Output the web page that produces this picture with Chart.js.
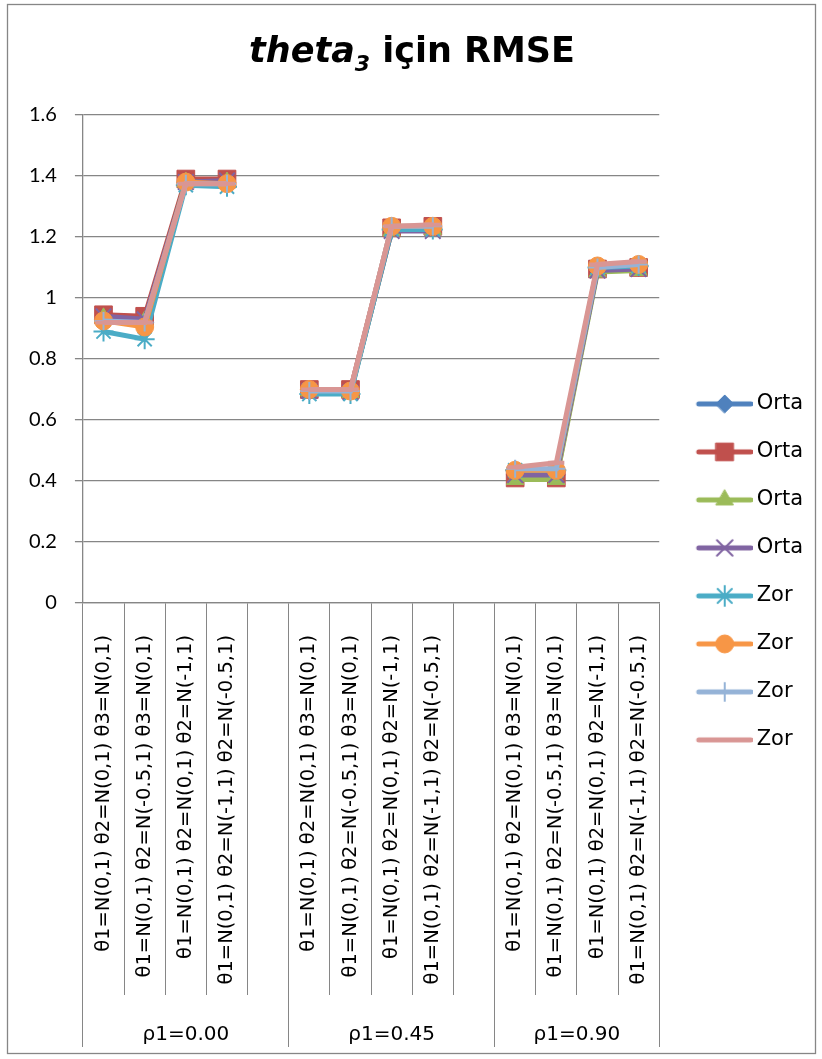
<!DOCTYPE html>
<html>
<head>
<meta charset="utf-8">
<script src="https://cdn.jsdelivr.net/npm/chart.js@4.4.0/dist/chart.umd.min.js"></script>
<style>
  html, body { margin: 0; padding: 0; background: #fff; }
  #quadro { width: 822px; height: 1059px; }
</style>
</head>
<body>
<div id="quadro"><canvas id="grafico" width="822" height="1059"></canvas></div>
<script>
// categorias (14 posições: 4 cenários + 1 vazio por grupo)
var categorias = [
    "θ1=N(0,1) θ2=N(0,1) θ3=N(0,1)",
    "θ1=N(0,1) θ2=N(-0.5,1) θ3=N(0,1)",
    "θ1=N(0,1) θ2=N(0,1) θ2=N(-1,1)",
    "θ1=N(0,1) θ2=N(-1,1) θ2=N(-0.5,1)",
    "",
    "θ1=N(0,1) θ2=N(0,1) θ3=N(0,1)",
    "θ1=N(0,1) θ2=N(-0.5,1) θ3=N(0,1)",
    "θ1=N(0,1) θ2=N(0,1) θ2=N(-1,1)",
    "θ1=N(0,1) θ2=N(-1,1) θ2=N(-0.5,1)",
    "",
    "θ1=N(0,1) θ2=N(0,1) θ3=N(0,1)",
    "θ1=N(0,1) θ2=N(-0.5,1) θ3=N(0,1)",
    "θ1=N(0,1) θ2=N(0,1) θ2=N(-1,1)",
    "θ1=N(0,1) θ2=N(-1,1) θ2=N(-0.5,1)"
];
var grupos = ["ρ1=0.00", "ρ1=0.45", "ρ1=0.90"];
var grupoCentros = [2, 7, 11.5];
var grupoLimites = [-0.5, 4.5, 9.5, 13.5];

var nomesSeries = ["Orta", "Orta", "Orta", "Orta", "Zor", "Zor", "Zor", "Zor"];

var orta1 = [0.93, 0.92, 1.38, 1.38, null, 0.695, 0.695, 1.225, 1.23, null, 0.42, 0.42, 1.095, 1.10];
var orta2 = [0.945, 0.94, 1.39, 1.39, null, 0.70, 0.70, 1.23, 1.235, null, 0.41, 0.41, 1.095, 1.10];
var orta3 = [0.935, 0.925, 1.38, 1.38, null, 0.695, 0.69, 1.22, 1.225, null, 0.405, 0.405, 1.085, 1.09];
var orta4 = [0.94, 0.93, 1.38, 1.385, null, 0.695, 0.69, 1.22, 1.22, null, 0.42, 0.42, 1.09, 1.095];
var zor1 = [0.89, 0.865, 1.37, 1.365, null, 0.685, 0.685, 1.225, 1.225, null, 0.435, 0.435, 1.10, 1.105];
var zor2 = [0.925, 0.905, 1.38, 1.375, null, 0.70, 0.695, 1.235, 1.235, null, 0.435, 0.435, 1.105, 1.11];
var zor3 = [0.925, 0.92, 1.375, 1.375, null, 0.695, 0.695, 1.235, 1.235, null, 0.44, 0.44, 1.10, 1.11];
var zor4 = [0.92, 0.92, 1.375, 1.375, null, 0.70, 0.70, 1.235, 1.24, null, 0.445, 0.46, 1.11, 1.12];

var rotulosY = ["0", "0.2", "0.4", "0.6", "0.8", "1", "1.2", "1.4", "1.6"];

// estilo de cada série (cores do Excel)
var cores = ["#4F81BD", "#C0504D", "#9BBB59", "#8064A2", "#4BACC6", "#F79646", "#95B3D7", "#D99694"];
var marcadores = ["rectRot", "rect", "triangle", "crossRot", "star", "circle", "cross", "line"];
var raios = [9, 12.5, 10, 11, 10, 9, 9, 8];
var bordas = [1, 1, 1, 2, 2, 1, 2, 4];

var cinza = "#868686";

function iconeLegenda(i) {
    var c = document.createElement("canvas");
    c.width = 73;
    c.height = 26;
    var g = c.getContext("2d");
    g.strokeStyle = cores[i];
    g.lineWidth = 5;
    g.lineCap = "round";
    g.beginPath();
    g.moveTo(19, 13);
    g.lineTo(71, 13);
    g.stroke();
    if (marcadores[i] != "line") {
        g.fillStyle = cores[i];
        g.strokeStyle = cores[i];
        g.lineWidth = bordas[i];
        Chart.helpers.drawPoint(g, {pointStyle: marcadores[i], radius: raios[i], borderWidth: bordas[i], rotation: 0}, 45, 13);
    }
    return c;
}

function gerarGrafico() {
    var ctx = document.getElementById("grafico").getContext("2d");

    var series = [orta1, orta2, orta3, orta4, zor1, zor2, zor3, zor4];
    var datasets = series.map(function (valores, i) {
        return {
            label: nomesSeries[i],
            data: valores,
            borderColor: cores[i],
            backgroundColor: cores[i],
            borderWidth: 5,
            pointStyle: marcadores[i],
            pointRadius: raios[i],
            pointHoverRadius: raios[i],
            pointBorderWidth: bordas[i],
            pointBackgroundColor: cores[i],
            pointBorderColor: cores[i],
            tension: 0,
            spanGaps: false,
            order: 8 - i
        };
    });

    // moldura externa + título com itálico e índice
    var moldura = {
        id: "moldura",
        beforeDraw: function (chart) {
            var c = chart.ctx;
            c.save();
            c.fillStyle = "#fff";
            c.fillRect(0, 0, chart.width, chart.height);
            c.strokeStyle = cinza;
            c.lineWidth = 1.3;
            c.strokeRect(7.5, 4.5, 808, 1049);
            c.restore();
        },
        afterDraw: function (chart) {
            var c = chart.ctx;
            c.save();
            c.fillStyle = "#000";
            c.textBaseline = "alphabetic";
            var f1 = "italic bold 35px 'DejaVu Sans'";
            var f2 = "italic bold 22px 'DejaVu Sans'";
            var f3 = "bold 35px 'DejaVu Sans'";
            c.font = f1; var w1 = c.measureText("theta").width;
            c.font = f2; var w2 = c.measureText("3").width;
            c.font = f3; var w3 = c.measureText(" için RMSE").width;
            var x0 = 412 - (w1 + w2 + w3) / 2;
            var base = 62;
            c.font = f1; c.fillText("theta", x0, base);
            c.font = f2; c.fillText("3", x0 + w1, base + 9);
            c.font = f3; c.fillText(" için RMSE", x0 + w1 + w2, base);
            c.restore();
        }
    };

    new Chart(ctx, {
        type: "line",
        data: {labels: categorias, datasets: datasets},
        plugins: [moldura],
        options: {
            responsive: false,
            animation: false,
            devicePixelRatio: 1,
            layout: {padding: {top: 115, bottom: 12, left: 11, right: 9}},
            plugins: {
                title: {display: false},
                tooltip: {enabled: false},
                legend: {
                    position: "right",
                    align: "start",
                    title: {display: true, text: " ", font: {size: 12}, padding: {top: 0, bottom: 237}},
                    labels: {
                        usePointStyle: true,
                        pointStyleWidth: 60,
                        padding: 27,
                        color: "#000",
                        font: {family: "'DejaVu Sans'", size: 21},
                        generateLabels: function (chart) {
                            return chart.data.datasets.map(function (d, i) {
                                return {
                                    text: d.label,
                                    pointStyle: iconeLegenda(i),
                                    fillStyle: cores[i],
                                    strokeStyle: cores[i],
                                    lineWidth: 0,
                                    fontColor: "#000",
                                    hidden: false,
                                    datasetIndex: i
                                };
                            });
                        }
                    }
                }
            },
            scales: {
                x: {
                    type: "category",
                    position: "bottom",
                    weight: 0,
                    offset: true,
                    grid: {display: true, drawOnChartArea: false, offset: true, color: cinza, lineWidth: 1, tickLength: 392},
                    border: {display: true, color: cinza, width: 1.3},
                    ticks: {
                        autoSkip: false,
                        maxRotation: 90,
                        minRotation: 90,
                        padding: -360,
                        color: "#000",
                        font: {family: "'DejaVu Sans'", size: 19.5}
                    },
                    afterFit: function (scale) { scale.height = 392; }
                },
                x2: {
                    type: "linear",
                    position: "bottom",
                    weight: 1,
                    min: -0.5,
                    max: 13.5,
                    afterBuildTicks: function (scale) {
                        var t = [];
                        for (var k = 0; k < grupoLimites.length; k++) {
                            t.push({value: grupoLimites[k]});
                            if (k < grupoCentros.length) t.push({value: grupoCentros[k]});
                        }
                        scale.ticks = t;
                    },
                    grid: {
                        display: true,
                        drawOnChartArea: false,
                        tickLength: 52,
                        color: function (c) { return c.index % 2 == 0 ? cinza : "rgba(0,0,0,0)"; },
                        lineWidth: 1
                    },
                    border: {display: false},
                    ticks: {
                        autoSkip: false,
                        maxRotation: 0,
                        padding: -24,
                        color: "#000",
                        font: {family: "'DejaVu Sans'", size: 20},
                        callback: function (v, i) { return i % 2 == 1 ? grupos[(i - 1) / 2] : ""; }
                    },
                    afterFit: function (scale) { scale.height = 52; }
                },
                y: {
                    min: 0,
                    max: 1.6,
                    ticks: {
                        stepSize: 0.2,
                        padding: 18,
                        color: "#000",
                        font: {family: "Lato", size: 20},
                        callback: function (v, i) { return rotulosY[i]; }
                    },
                    grid: {color: cinza, lineWidth: 1.3, tickLength: 8},
                    border: {display: true, color: cinza, width: 1.3}
                }
            }
        }
    });
}

gerarGrafico();
</script>
</body>
</html>
